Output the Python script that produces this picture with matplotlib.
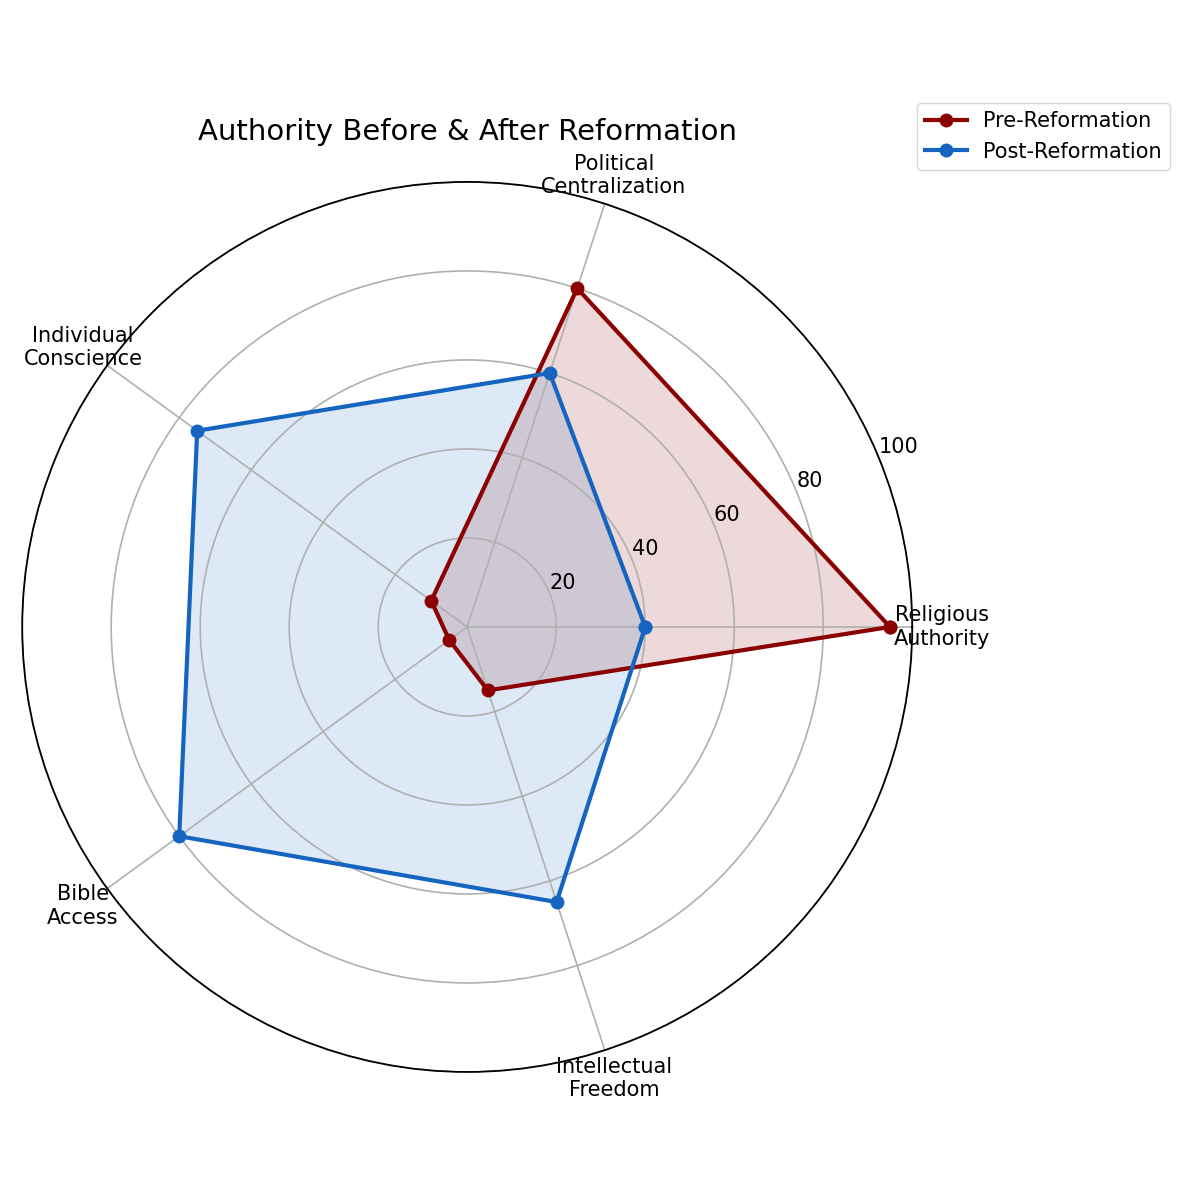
import numpy as np
import matplotlib
matplotlib.use("Agg")
import matplotlib.pyplot as plt

categories = ["Religious\nAuthority", "Political\nCentralization", "Individual\nConscience", "Bible\nAccess", "Intellectual\nFreedom"]
pre_values = [95, 80, 10, 5, 15]
post_values = [40, 60, 75, 80, 65]
rticks = [20, 40, 60, 80, 100]

N = len(categories)
angles = np.linspace(0, 2 * np.pi, N, endpoint=False).tolist()
angles_c = angles + angles[:1]

fig = plt.figure(figsize=(12, 12), dpi=100)
ax = fig.add_axes([0.0185, 0.1067, 0.7417, 0.7417], projection="polar")

pre_c = pre_values + pre_values[:1]
post_c = post_values + post_values[:1]
ax.plot(angles_c, pre_c, color="#8B0000", linewidth=3, marker="o", markersize=9, label="Pre-Reformation")
ax.fill(angles_c, pre_c, color="#8B0000", alpha=0.15)
ax.plot(angles_c, post_c, color="#1565C0", linewidth=3, marker="o", markersize=9, label="Post-Reformation")
ax.fill(angles_c, post_c, color="#1565C0", alpha=0.14)

ax.set_ylim(0, 100)
ax.set_yticks(rticks)
ax.set_yticklabels([str(v) for v in rticks], fontsize=15)
ax.set_xticks(angles)
ax.set_xticklabels(categories, fontsize=15)
ax.tick_params(axis="x", pad=11)
ax.grid(True, color="#b0b0b0", linewidth=1.2)
ax.spines["polar"].set_linewidth(1.3)

ax.set_title("Authority Before & After Reformation", fontsize=21, pad=30)
fig.legend(loc="upper right", bbox_to_anchor=(0.984, 0.923), fontsize=15)

fig.savefig("out.png", dpi=100)
